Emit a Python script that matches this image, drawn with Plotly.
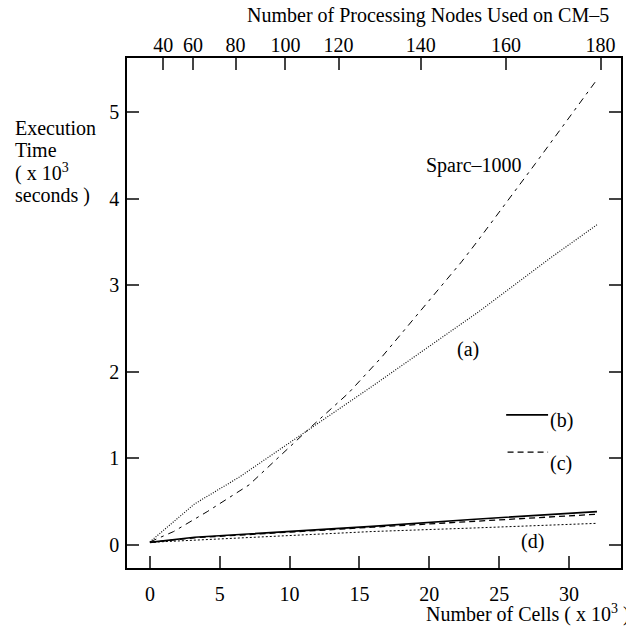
import plotly.graph_objects as go

# ---- data (cells in thousands, time in thousands of seconds) ----
sparc_x = [0, 1.7, 4.1, 7.1, 11.6, 14.2, 16.6, 22.3, 23.4, 27.6, 32]
sparc_y = [0.03, 0.15, 0.38, 0.69, 1.37, 1.75, 2.17, 3.27, 3.50, 4.41, 5.38]

a_x = [0, 3.2, 6.4, 11.6, 15.9, 23.5, 28.7, 32]
a_y = [0.03, 0.47, 0.78, 1.36, 1.83, 2.69, 3.32, 3.70]

b_x = [0, 3.2, 15.9, 23, 32]
b_y = [0.025, 0.083, 0.21, 0.29, 0.38]

c_x = [0, 3.2, 15.9, 23, 32]
c_y = [0.025, 0.078, 0.20, 0.265, 0.35]

d_x = [0, 3.2, 15.9, 23, 32]
d_y = [0.025, 0.05, 0.15, 0.19, 0.245]

x_ticks = [0, 5, 10, 15, 20, 25, 30]
y_ticks = [0, 1, 2, 3, 4, 5]

# top axis: processing nodes, placed at the matching cell counts
node_labels = ["40", "60", "80", "100", "120", "140", "160", "180"]
node_cells = [0.95, 3.09, 6.13, 9.70, 13.50, 19.38, 25.48, 32.26]

FONT = "Liberation Serif"
FS = 20

fig = go.Figure()
fig.add_trace(go.Scatter(x=sparc_x, y=sparc_y, mode="lines",
                         line=dict(color="black", width=1, dash="7px,5px,3px,5px")))
fig.add_trace(go.Scatter(x=a_x, y=a_y, mode="lines",
                         line=dict(color="#111", width=1.2, dash="1px,1.5px")))
fig.add_trace(go.Scatter(x=b_x, y=b_y, mode="lines",
                         line=dict(color="black", width=1.6)))
fig.add_trace(go.Scatter(x=c_x, y=c_y, mode="lines",
                         line=dict(color="black", width=1.3, dash="6px,4px")))
# drawn against the (identical-range) top axis so that the top axis is rendered
fig.add_trace(go.Scatter(x=d_x, y=d_y, mode="lines", xaxis="x2",
                         line=dict(color="black", width=1, dash="2px,2px")))

xr = [-1.64, 33.72]
yr = [-0.272, 5.63]

fig.update_layout(
    width=626, height=627,
    margin=dict(l=127, r=3, t=58, b=59),
    paper_bgcolor="white", plot_bgcolor="white",
    showlegend=False,
    font=dict(family=FONT, size=FS, color="black"),
    xaxis=dict(range=xr, tickvals=x_ticks, ticks="inside", ticklen=12,
               tickwidth=1.5, tickcolor="#444", showline=True, linecolor="black",
               linewidth=1.5, showgrid=False, zeroline=False,
               ticklabelstandoff=7,
               tickfont=dict(family=FONT, size=FS)),
    xaxis2=dict(range=xr, overlaying="x", side="top", anchor="y",
                tickvals=node_cells, ticktext=node_labels, ticks="inside",
                ticklen=12, tickwidth=1.5, tickcolor="#444", showline=True,
                linecolor="black", linewidth=1.5, showgrid=False, zeroline=False,
                ticklabelstandoff=-4,
                tickfont=dict(family=FONT, size=FS)),
    yaxis=dict(range=yr, tickvals=y_ticks, ticks="inside", ticklen=12,
               tickwidth=1.5, tickcolor="#444", showline=True, linecolor="black",
               linewidth=1.5, mirror="ticks", showgrid=False, zeroline=False,
               ticklabelstandoff=2,
               tickfont=dict(family=FONT, size=FS)),
)

# line-style key for (b) and (c)
fig.add_shape(type="line", x0=25.5, x1=28.5, y0=1.50, y1=1.50,
              line=dict(color="black", width=1.6))
fig.add_shape(type="line", x0=25.6, x1=28.5, y0=1.07, y1=1.07,
              line=dict(color="black", width=1.3, dash="6px,4px"))

ann = [
    dict(x=23.17, y=4.39, text="Sparc–1000", xref="x", yref="y"),
    dict(x=22.8, y=2.26, text="(a)", xref="x", yref="y"),
    dict(x=27.4, y=0.03, text="(d)", xref="x", yref="y"),
]
for a in ann:
    fig.add_annotation(**a, showarrow=False, xanchor="center", yanchor="middle",
                       font=dict(family=FONT, size=FS))
fig.add_annotation(x=28.5, y=1.44, text="(b)", xref="x", yref="y", showarrow=False,
                   xanchor="left", yanchor="middle", font=dict(family=FONT, size=FS))
fig.add_annotation(x=28.5, y=0.94, text="(c)", xref="x", yref="y", showarrow=False,
                   xanchor="left", yanchor="middle", font=dict(family=FONT, size=FS))

# y title (separate lines)
ylines = ["Execution", "Time", "( x 10<sup>3</sup>", "seconds )"]
ypix = [128, 150, 172, 195]
for t, py in zip(ylines, ypix):
    fig.add_annotation(x=-0.23, y=(568 - py) / 510, xref="paper", yref="paper",
                       text=t, showarrow=False, xanchor="left", yanchor="middle",
                       font=dict(family=FONT, size=FS))

# bottom title
fig.add_annotation(x=(425 - 127) / 496, y=(568 - 613) / 510, xref="paper", yref="paper",
                   text="Number of Cells ( x 10<sup>3</sup> )", showarrow=False,
                   xanchor="left", yanchor="middle", font=dict(family=FONT, size=FS))
# top title
fig.add_annotation(x=(613 - 127) / 496, y=(568 - 15) / 510, xref="paper", yref="paper",
                   text="Number of Processing Nodes Used on CM–5", showarrow=False,
                   xanchor="right", yanchor="middle", font=dict(family=FONT, size=FS))

fig.write_html("out.html")
